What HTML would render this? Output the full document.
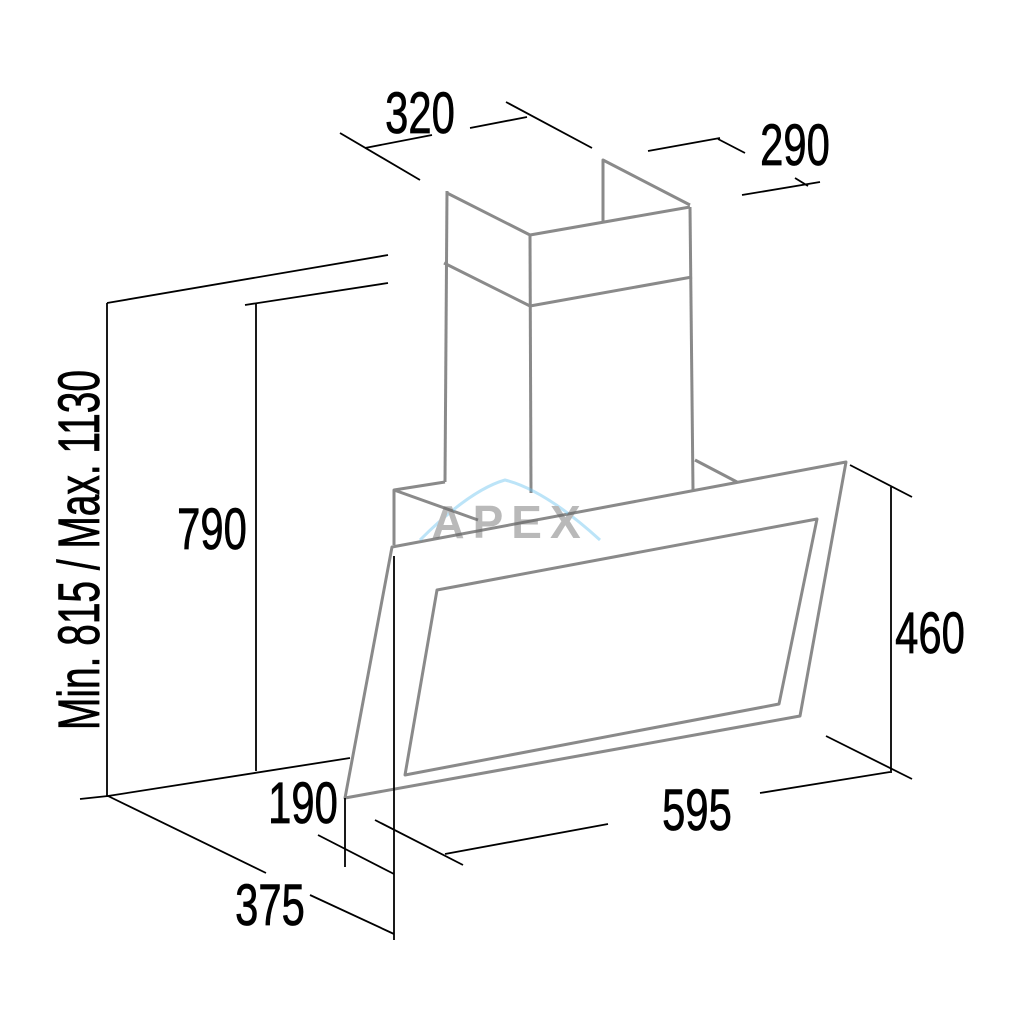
<!DOCTYPE html>
<html><head><meta charset="utf-8"><style>
html,body{margin:0;padding:0;background:#fff}
svg{display:block}
text{font-family:"Liberation Sans Narrow","Liberation Sans",sans-serif;fill:#000}
</style></head><body>
<svg width="1024" height="1024" viewBox="0 0 1024 1024" xmlns="http://www.w3.org/2000/svg">
<rect width="1024" height="1024" fill="#fff"/>
<g fill="none" stroke="#8a8a8a" stroke-width="3" stroke-linejoin="round">
<polyline points="447,191 445,482"/>
<polyline points="447,193 530,235 690,207"/>
<line x1="530" y1="235" x2="531" y2="493"/>
<line x1="690" y1="207" x2="693" y2="490"/>
<polyline points="603,222 603,160 690,205"/>
<polyline points="444,263 530,306 692,277"/>
<polyline points="394,545 394,490 445,482"/>
<line x1="394" y1="490" x2="478" y2="520"/>
<line x1="695" y1="460" x2="737" y2="482"/>
<polygon points="392,547 846,462 800,716 345,798"/>
<polygon points="437,590 817,519 779,704 405,775"/>
</g>
<g opacity="0.45">
<path d="M420,540 Q470,490 505,480 Q545,490 600,540" fill="none" stroke="#6cc4f0" stroke-width="3"/>
<text x="510" y="538" font-size="46" text-anchor="middle" style="fill:#666;font-weight:bold" letter-spacing="8">APEX</text>
</g>
<g stroke="#000" stroke-width="1.8" fill="none">
<line x1="340" y1="133" x2="420" y2="180"/>
<line x1="365" y1="148" x2="432" y2="135"/>
<line x1="470" y1="128" x2="527" y2="117"/>
<line x1="506" y1="102" x2="592" y2="148"/>
<line x1="648" y1="151" x2="720" y2="138"/>
<line x1="718" y1="139" x2="745" y2="153"/>
<line x1="742" y1="195" x2="820" y2="182"/>
<line x1="795" y1="178" x2="808" y2="186"/>
<line x1="107" y1="303" x2="388" y2="255"/>
<line x1="245" y1="305" x2="388" y2="283"/>
<line x1="107" y1="303" x2="107" y2="797"/>
<line x1="256" y1="303" x2="256" y2="771"/>
<line x1="80" y1="799" x2="108" y2="796"/>
<line x1="108" y1="796" x2="350" y2="758"/>
<line x1="108" y1="796" x2="266" y2="873"/>
<line x1="310" y1="895" x2="394" y2="934"/>
<line x1="394" y1="556" x2="394" y2="940"/>
<line x1="345" y1="798" x2="345" y2="867"/>
<line x1="318" y1="835" x2="394" y2="874"/>
<line x1="375" y1="820" x2="463" y2="865"/>
<line x1="445" y1="854" x2="608" y2="824"/>
<line x1="760" y1="793" x2="890" y2="772"/>
<line x1="826" y1="736" x2="912" y2="779"/>
<line x1="891" y1="487" x2="891" y2="773"/>
<line x1="850" y1="465" x2="912" y2="497"/>
</g>
<g font-size="58" style="stroke:#000;stroke-width:0.8">
<text x="420" y="133" text-anchor="middle" transform="translate(420,0) scale(0.72,1) translate(-420,0)">320</text>
<text x="795" y="165" text-anchor="middle" transform="translate(795,0) scale(0.72,1) translate(-795,0)">290</text>
<text x="212" y="549" text-anchor="middle" transform="translate(212,0) scale(0.72,1) translate(-212,0)">790</text>
<text x="930" y="653" text-anchor="middle" transform="translate(930,0) scale(0.72,1) translate(-930,0)">460</text>
<text x="697" y="830" text-anchor="middle" transform="translate(697,0) scale(0.72,1) translate(-697,0)">595</text>
<text x="303" y="823" text-anchor="middle" transform="translate(303,0) scale(0.72,1) translate(-303,0)">190</text>
<text x="270" y="925" text-anchor="middle" transform="translate(270,0) scale(0.72,1) translate(-270,0)">375</text>
<text x="0" y="0" text-anchor="middle" transform="translate(99,550) rotate(-90) scale(0.67,1)">Min. 815 / Max. 1130</text>
</g>
</svg>
</body></html>
